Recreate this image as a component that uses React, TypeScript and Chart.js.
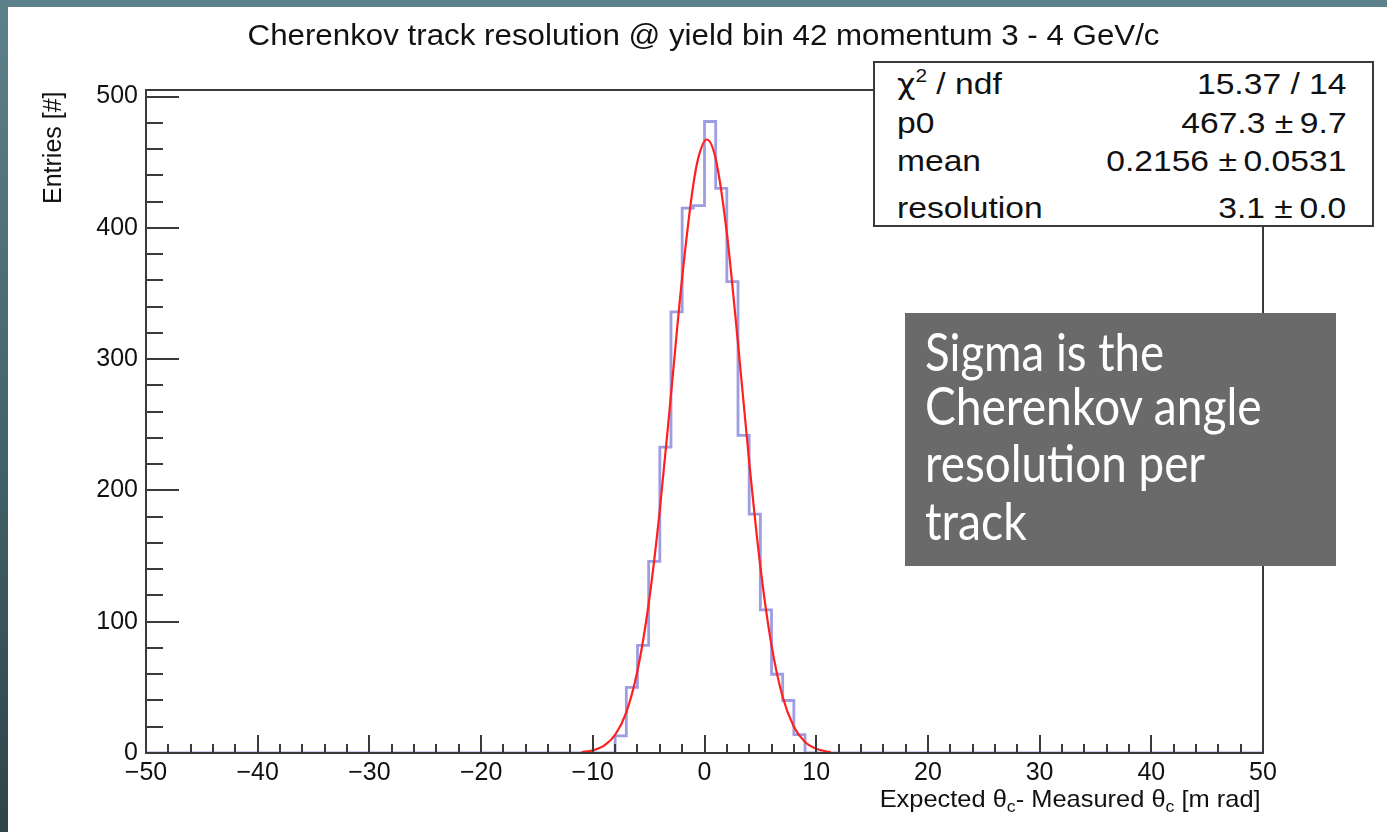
import React, { useEffect, useLayoutEffect, useRef } from 'react';
import { Chart, registerables } from 'chart.js';

Chart.register(...registerables);

// ---------------- data ----------------
const binLowEdges = [-8, -7, -6, -5, -4, -3, -2, -1, 0, 1, 2, 3, 4, 5, 6, 7, 8];
const binCounts = [13, 50, 82, 146, 233, 336, 415, 417, 481, 430, 359, 242, 182, 109, 60, 40, 14];
const binWidth = 1;
const histMin = -50;
const histMax = 50;

// fitted curve
const fitX = [-11, -10, -9, -8, -7, -6, -5, -4, -3, -2, -1, -0.5, 0.2, 1, 2, 3, 4, 5, 6, 7, 8, 9, 10, 11, 11.3];
const fitY = [0.7, 2, 5.6, 13.9, 31, 62.6, 113.5, 185, 273, 362, 433, 455, 467.3, 452.6, 396, 312, 222, 142, 82, 42.6, 20, 8.4, 3.2, 1.1, 0.8];

const xTickValues = [-50, -40, -30, -20, -10, 0, 10, 20, 30, 40, 50];
const yTickValues = [0, 100, 200, 300, 400, 500];
const xMinorStep = 2;
const yMinorStep = 20;
const yAxisMax = 505;

const titleText = 'Cherenkov track resolution @ yield bin 42 momentum 3 - 4 GeV/c';
const statNames = ['χ^2 / ndf', 'p0', 'mean', 'resolution'];
const statValues = ['15.37 / 14', '467.3 \u00b1\u20099.7', '0.2156 \u00b1\u20090.0531', '3.1 \u00b1\u20090.0'];
const noteLines = ['Sigma is the', 'Cherenkov angle', 'resolution per', 'track'];

// ---------------- styling ----------------
const SANS = '"Liberation Sans", Arial, Helvetica, sans-serif';
const frameColor = '#3a3a3a';
const textColor = '#111111';

const fmtTick = (v: number) => (v < 0 ? '\u2212' + Math.abs(v) : String(v));

type FitProps = {
  x: number;
  baseline: number;
  align?: 'left' | 'right' | 'center';
  size: number;
  family: string;
  width?: number;
  scale?: number;
  color?: string;
  children: React.ReactNode;
};

function FitText({ x, baseline, align = 'left', size, family, width, scale, color = textColor, children }: FitProps) {
  const ref = useRef<HTMLDivElement>(null);
  const mark = useRef<HTMLSpanElement>(null);
  useLayoutEffect(() => {
    const el = ref.current;
    const m = mark.current;
    if (!el || !m) return;
    el.style.transform = 'none';
    el.style.left = '0px';
    el.style.top = '0px';
    const er = el.getBoundingClientRect();
    const mr = m.getBoundingClientRect();
    const w = er.width;
    const base = mr.bottom - er.top;
    const sx = width ? width / w : scale ?? 1;
    const f = align === 'left' ? 0 : align === 'right' ? 1 : 0.5;
    el.style.left = x - w * f + 'px';
    el.style.top = baseline - base + 'px';
    el.style.transformOrigin = `${f * 100}% 0`;
    el.style.transform = `scaleX(${sx})`;
  });
  return (
    <div
      ref={ref}
      style={{
        position: 'absolute',
        whiteSpace: 'nowrap',
        fontSize: size,
        fontFamily: family,
        lineHeight: 1,
        color,
      }}
    >
      {children}
      <span ref={mark} style={{ display: 'inline-block', width: 0, height: 0 }} />
    </div>
  );
}

function renderStatName(name: string) {
  const i = name.indexOf('^');
  if (i < 0) return name;
  return (
    <>
      <span style={{ fontFamily: '"DejaVu Sans", sans-serif', fontSize: '0.95em' }}>{name.slice(0, i)}</span>
      <span style={{ fontSize: '0.62em', position: 'relative', top: '-0.62em' }}>{name[i + 1]}</span>
      {name.slice(i + 2)}
    </>
  );
}

const rootAxes = {
  id: 'rootAxes',
  afterDraw(chart: any) {
    const { ctx, chartArea: a, scales } = chart;
    const xs = scales.x;
    const ys = scales.y;
    ctx.save();
    ctx.strokeStyle = frameColor;
    ctx.lineWidth = 2;
    ctx.strokeRect(a.left, a.top, a.right - a.left, a.bottom - a.top);
    ctx.beginPath();
    for (let v = xs.min; v <= xs.max + 1e-9; v += xMinorStep) {
      const px = Math.round(xs.getPixelForValue(v));
      const len = xTickValues.includes(Math.round(v)) ? 18 : 9;
      ctx.moveTo(px, a.bottom);
      ctx.lineTo(px, a.bottom - len);
    }
    for (let v = 0; v <= ys.max + 1e-9; v += yMinorStep) {
      const py = Math.round(ys.getPixelForValue(v));
      const len = yTickValues.includes(Math.round(v)) ? 33 : 17;
      ctx.moveTo(a.left, py);
      ctx.lineTo(a.left + len, py);
    }
    ctx.stroke();
    ctx.restore();
  },
};

export default function App() {
  const canvasRef = useRef<HTMLCanvasElement>(null);

  useEffect(() => {
    if (!canvasRef.current) return;
    const histPoints: { x: number; y: number }[] = [{ x: histMin, y: 0 }];
    binLowEdges.forEach((e, i) => histPoints.push({ x: e, y: binCounts[i] }));
    histPoints.push({ x: binLowEdges[binLowEdges.length - 1] + binWidth, y: 0 });
    histPoints.push({ x: histMax, y: 0 });
    const fitPoints = fitX.map((x, i) => ({ x, y: fitY[i] }));

    const chart = new Chart(canvasRef.current, {
      type: 'line',
      data: {
        datasets: [
          {
            label: 'fit',
            data: fitPoints,
            borderColor: '#ff1f1f',
            borderWidth: 2.2,
            pointRadius: 0,
            cubicInterpolationMode: 'monotone',
            fill: false,
          },
          {
            label: 'hist',
            data: histPoints,
            borderColor: '#9d9de2',
            borderWidth: 2.8,
            pointRadius: 0,
            stepped: 'before',
            fill: false,
          },
        ],
      },
      options: {
        animation: false,
        responsive: false,
        events: [],
        layout: { padding: { left: 86, right: 124, top: 90, bottom: 39 } },
        plugins: { legend: { display: false }, tooltip: { enabled: false }, title: { display: false } },
        scales: {
          x: {
            type: 'linear',
            min: histMin,
            max: histMax,
            grid: { display: false, drawTicks: false },
            border: { display: false },
            ticks: {
              autoSkip: false,
              maxRotation: 0,
              padding: 5,
              color: textColor,
              font: { family: SANS, size: 25 },
              callback: (v: any) => fmtTick(Number(v)),
            },
            afterBuildTicks: (s: any) => {
              s.ticks = xTickValues.map((v) => ({ value: v }));
            },
            afterFit: (s: any) => {
              s.height = 40;
            },
          },
          y: {
            type: 'linear',
            min: 0,
            max: yAxisMax,
            grid: { display: false, drawTicks: false },
            border: { display: false },
            ticks: {
              autoSkip: false,
              padding: 8,
              color: textColor,
              font: { family: SANS, size: 25 },
              callback: (v: any) => fmtTick(Number(v)),
            },
            afterBuildTicks: (s: any) => {
              s.ticks = yTickValues.map((v) => ({ value: v }));
            },
            afterFit: (s: any) => {
              s.width = 60;
            },
          },
        },
      },
      plugins: [rootAxes],
    } as any);
    return () => chart.destroy();
  }, []);

  const statRowsBaseline = [93.5, 132.5, 171, 218];

  return (
    <div
      style={{
        position: 'fixed',
        left: 0,
        top: 0,
        width: 1387,
        height: 832,
        overflow: 'hidden',
        background: 'linear-gradient(180deg, #5d818a 0%, #466870 45%, #2f4448 100%)',
      }}
    >
      <div style={{ position: 'absolute', left: 8, top: 7, right: 0, bottom: 0, background: '#ffffff' }} />
      <canvas ref={canvasRef} width={1387} height={832} style={{ position: 'absolute', left: 0, top: 0 }} />

      <FitText x={704} baseline={45} align="center" size={29} family={SANS} width={912}>
        {titleText}
      </FitText>

      {/* y axis title */}
      <div
        style={{
          position: 'absolute',
          left: 39.5,
          top: 204,
          transformOrigin: '0 0',
          transform: 'rotate(-90deg)',
          whiteSpace: 'nowrap',
          fontFamily: SANS,
          fontSize: 25,
          lineHeight: 1,
          color: textColor,
        }}
      >
        Entries [#]
      </div>

      {/* x axis title */}
      <FitText x={1261} baseline={807} align="right" size={24} family={SANS} width={381}>
        Expected θ<span style={{ fontSize: '0.7em', position: 'relative', top: '0.3em' }}>c</span>- Measured θ
        <span style={{ fontSize: '0.7em', position: 'relative', top: '0.3em' }}>c</span> [m rad]
      </FitText>

      {/* stats box */}
      <div
        style={{
          position: 'absolute',
          left: 873,
          top: 61,
          width: 501,
          height: 166,
          boxSizing: 'border-box',
          border: `2px solid ${frameColor}`,
          background: '#ffffff',
        }}
      />
      {statNames.map((n, i) => (
        <FitText key={'n' + i} x={897} baseline={statRowsBaseline[i]} size={30} family={SANS} scale={1.12}>
          {renderStatName(n)}
        </FitText>
      ))}
      {statValues.map((v, i) => (
        <FitText key={'v' + i} x={1346.5} baseline={statRowsBaseline[i]} align="right" size={30} family={SANS} scale={1.12}>
          {v}
        </FitText>
      ))}

      {/* annotation */}
      <div style={{ position: 'absolute', left: 905, top: 313, width: 431, height: 253, background: '#6a6a6a' }} />
      {noteLines.map((t, i) => (
        <FitText
          key={'t' + i}
          x={925}
          baseline={[371, 425, 481.5, 540][i]}
          size={53}
          family='Lato, "Open Sans", sans-serif'
          width={[239, 336.7, 280, 101.7][i]}
          color="#ffffff"
        >
          {t}
        </FitText>
      ))}
    </div>
  );
}
